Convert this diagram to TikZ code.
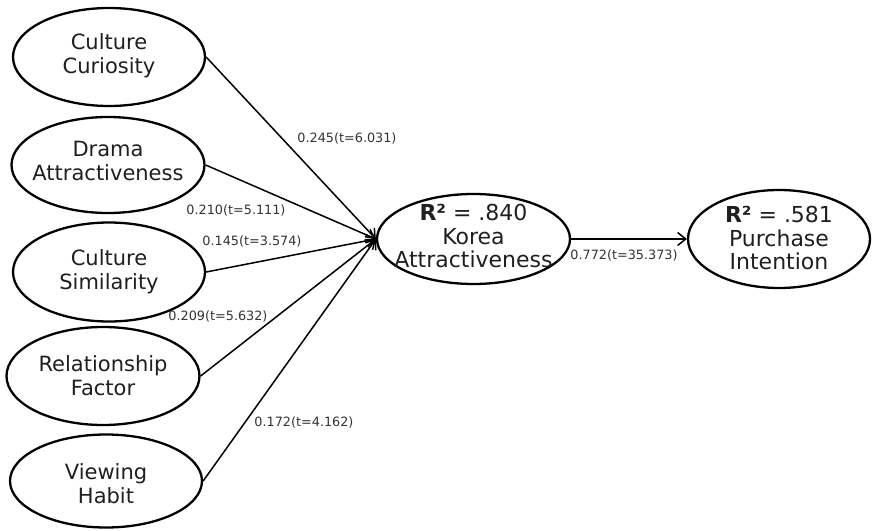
\documentclass[tikz,border=0pt]{standalone}
\usepackage{fontspec}
\setmainfont{DejaVu Sans}
\usetikzlibrary{shapes.geometric,arrows.meta}
\begin{document}
\begin{tikzpicture}[x=1pt,y=-1pt,
  lat/.style={ellipse, draw, line width=2.3pt, inner sep=0pt},
  ltxt/.style={align=center, text=black!88, inner sep=0pt, font=\fontsize{21}{24}\selectfont},
  rtxt/.style={align=center, text=black!88, inner sep=0pt, font=\fontsize{22}{23.5}\selectfont},
  conn/.style={line width=1.5pt, -{Straight Barb[length=8pt,width=13pt,line width=1.5pt]}},
  coef/.style={font=\fontsize{12.8}{14}\selectfont, text=black!80, inner sep=0pt}]
\useasboundingbox (0,0) rectangle (872,530);
\node[lat, minimum width=192pt, minimum height=98pt,
  label={[ltxt, yshift=1pt]center:Culture\\Curiosity}] (cc) at (109,57) {};
\node[lat, minimum width=193pt, minimum height=96pt,
  label={[ltxt, yshift=4pt]center:Drama\\Attractiveness}] (da) at (108,165) {};
\node[lat, minimum width=192pt, minimum height=99pt,
  label={[ltxt]center:Culture\\Similarity}] (cs) at (109,272) {};
\node[lat, minimum width=193pt, minimum height=98pt,
  label={[ltxt]center:Relationship\\Factor}] (rf) at (103,376) {};
\node[lat, minimum width=192pt, minimum height=93pt,
  label={[ltxt, yshift=-3pt]center:Viewing\\Habit}] (vh) at (106,481) {};
\node[lat, minimum width=193pt, minimum height=90pt,
  label={[rtxt, yshift=3pt]center:\textbf{R²} = .840\\Korea\\Attractiveness}] (ka) at (473.5,239) {};
\node[lat, minimum width=182pt, minimum height=98pt,
  label={[rtxt, yshift=1pt]center:\textbf{R²} = .581\\Purchase\\Intention}] (pi) at (779,239) {};
\draw[conn] (cc.east) -- (ka.west);
\draw[conn] (da.east) -- (ka.west);
\draw[conn] (cs.east) -- (ka.west);
\draw[conn] (rf.east) -- (ka.west);
\draw[conn] (vh.east) -- (ka.west);
\draw[conn] (ka.east) -- (pi.west);
\node[coef] (l1) at (347,138) {0.245(t=6.031)};
\node[coef] (l2) at (236,210) {0.210(t=5.111)};
\node[coef] (l3) at (252,241) {0.145(t=3.574)};
\node[coef] (l4) at (218,316) {0.209(t=5.632)};
\node[coef] (l5) at (304,422) {0.172(t=4.162)};
\node[coef] (l6) at (624,255) {0.772(t=35.373)};
\end{tikzpicture}
\end{document}
